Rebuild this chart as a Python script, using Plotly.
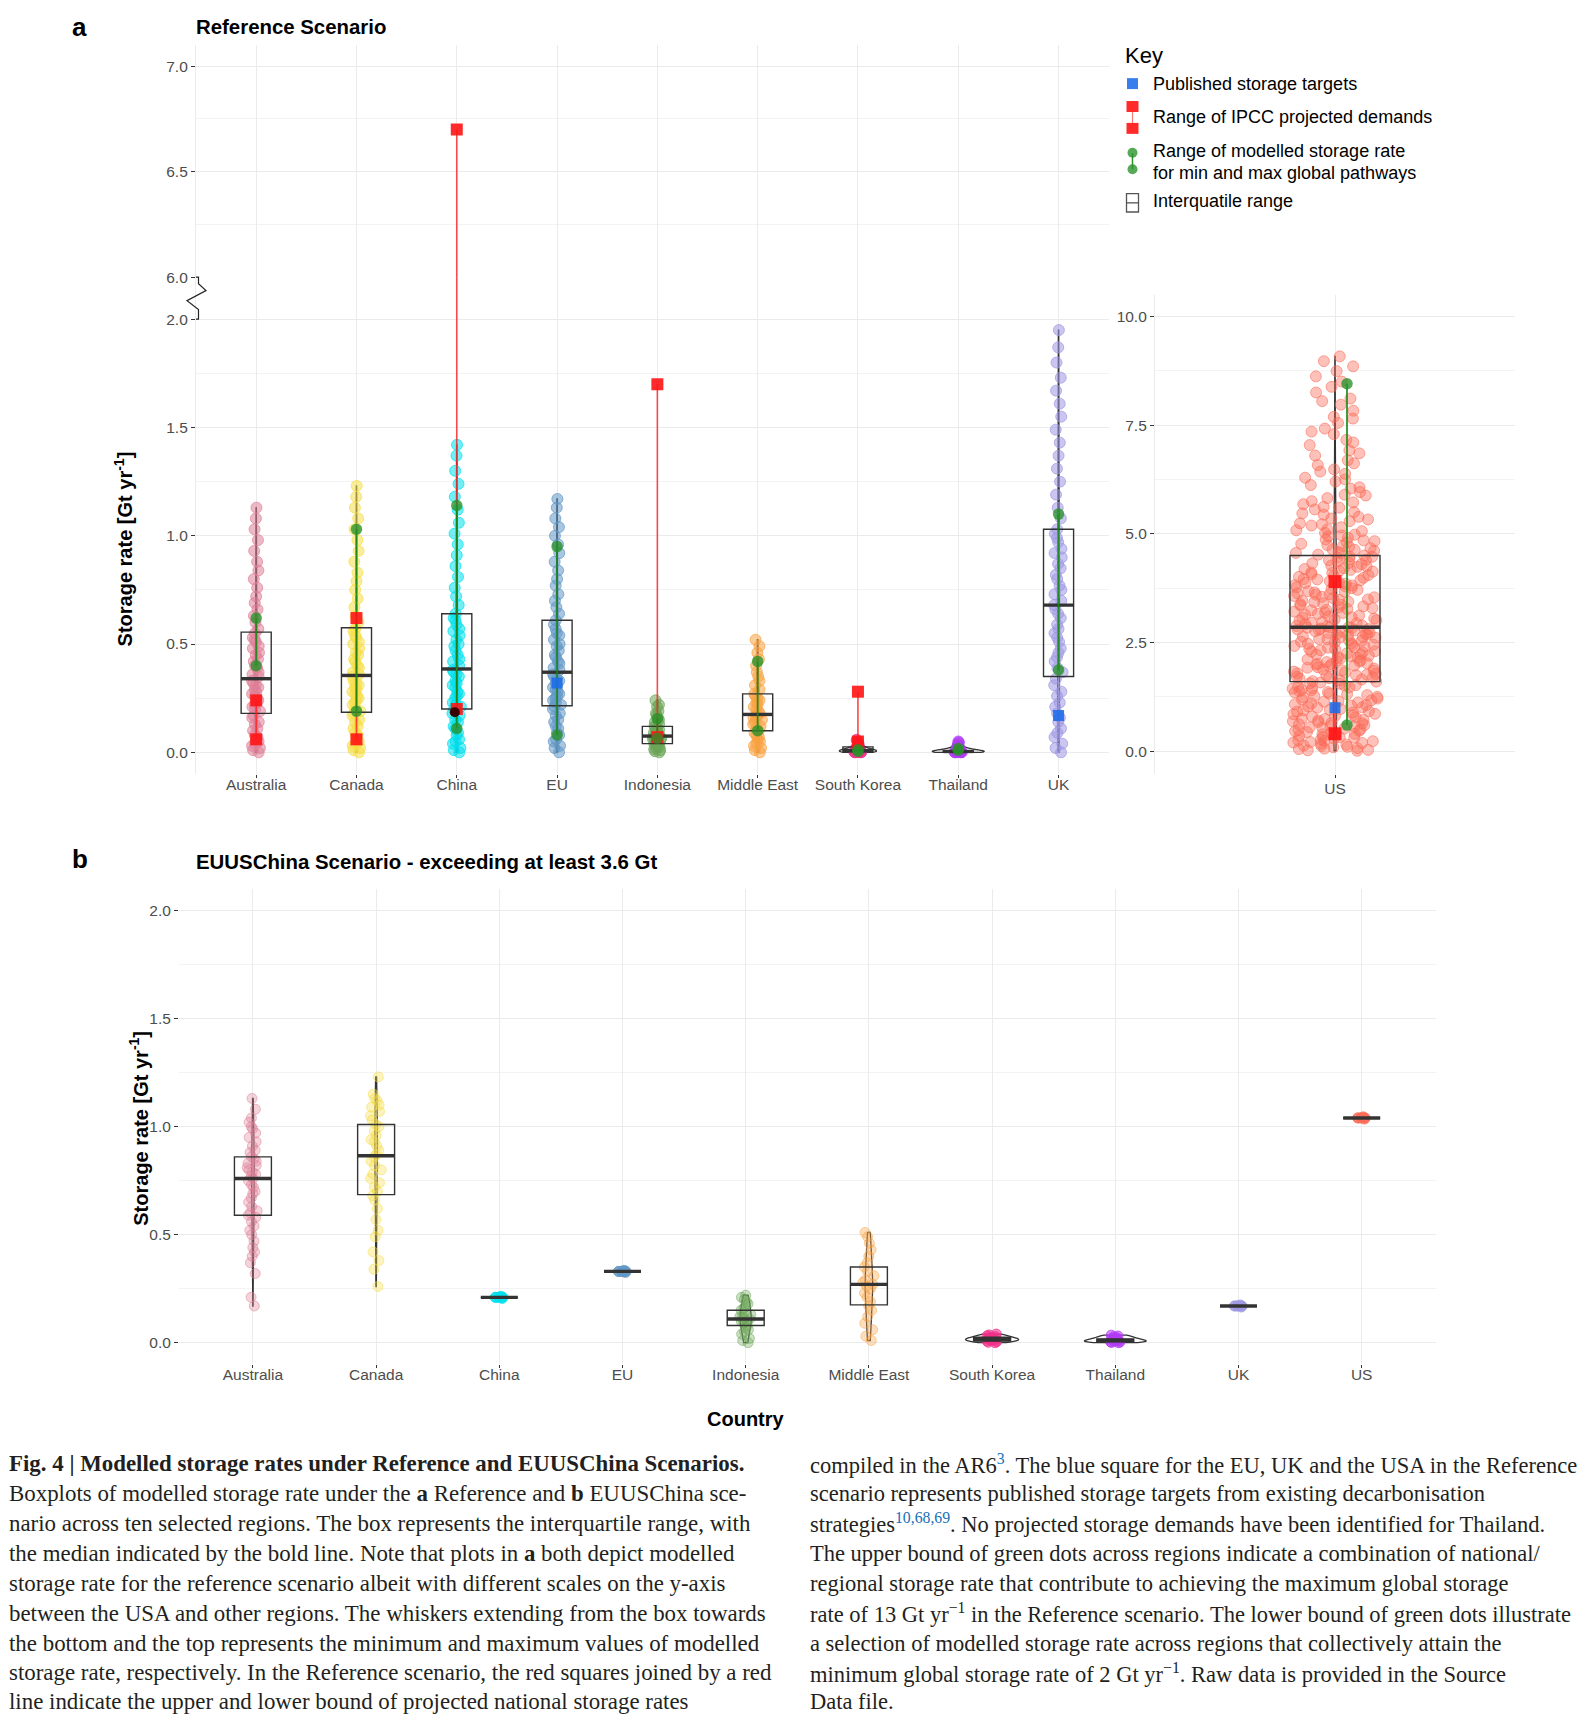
import plotly.graph_objects as go

W, H = 1591, 1722
def fx(x): return x / W
def fy(y): return 1 - y / H

# ---------------- data ----------------
regions_a = ["Australia", "Canada", "China", "EU", "Indonesia", "Middle East", "South Korea", "Thailand", "UK"]
regions_b = ["Australia", "Canada", "China", "EU", "Indonesia", "Middle East", "South Korea", "Thailand", "UK", "US"]

# Reference scenario modelled storage rates (Gt/yr), read from the jittered strips
aus_ref = [0.00,0.01,0.02,0.03,0.04,0.05,0.06,0.07,0.08,0.10,0.11,0.13,0.14,0.16,0.17,
           0.19,0.20,0.21,0.22,0.23,0.24,0.25,0.26,0.27,0.28,0.29,0.30,0.31,0.32,0.33,
           0.35,0.36,0.37,0.39,0.40,0.42,0.43,0.45,0.46,0.48,0.49,0.51,0.52,0.53,0.55,
           0.57,0.60,0.63,0.66,0.69,0.72,0.76,0.80,0.84,0.88,0.93,0.98,1.03,1.08,1.13]
can_ref = [0.00,0.01,0.02,0.03,0.04,0.05,0.07,0.08,0.09,0.11,0.12,0.14,0.15,0.17,0.18,
           0.19,0.20,0.22,0.23,0.24,0.25,0.26,0.27,0.28,0.29,0.30,0.31,0.32,0.33,0.35,
           0.36,0.37,0.39,0.40,0.42,0.43,0.45,0.46,0.48,0.50,0.51,0.53,0.54,0.56,0.57,
           0.60,0.63,0.67,0.71,0.75,0.79,0.83,0.88,0.93,0.98,1.03,1.08,1.13,1.18,1.23]
chn_ref = [0.00,0.01,0.02,0.04,0.05,0.06,0.08,0.09,0.11,0.12,0.14,0.15,0.17,0.18,0.20,
           0.21,0.22,0.23,0.25,0.26,0.27,0.28,0.30,0.31,0.32,0.33,0.35,0.36,0.37,0.38,
           0.40,0.42,0.43,0.45,0.47,0.49,0.50,0.52,0.54,0.56,0.57,0.59,0.61,0.62,0.64,
           0.68,0.72,0.76,0.81,0.86,0.91,0.96,1.01,1.06,1.12,1.18,1.24,1.30,1.37,1.42]
eu_ref = [0.00,0.02,0.03,0.05,0.06,0.08,0.09,0.11,0.12,0.14,0.15,0.17,0.18,0.20,0.21,
          0.22,0.23,0.24,0.25,0.26,0.27,0.28,0.29,0.30,0.31,0.32,0.33,0.34,0.35,0.36,
          0.38,0.39,0.41,0.42,0.44,0.45,0.47,0.49,0.50,0.52,0.54,0.55,0.57,0.59,0.61,
          0.64,0.67,0.70,0.73,0.77,0.80,0.84,0.88,0.92,0.96,1.00,1.04,1.08,1.13,1.17]
idn_ref = [0.00,0.005,0.01,0.015,0.02,0.025,0.03,0.035,0.04,0.04,
           0.045,0.05,0.055,0.06,0.06,0.065,0.07,0.07,0.075,0.075,
           0.08,0.085,0.09,0.09,0.095,0.10,0.105,0.11,0.115,0.12,
           0.13,0.14,0.15,0.16,0.17,0.18,0.19,0.21,0.22,0.24]
mde_ref = [0.00,0.01,0.02,0.03,0.04,0.05,0.06,0.07,0.08,0.09,
           0.10,0.11,0.12,0.13,0.14,0.15,0.16,0.16,0.17,0.17,
           0.18,0.19,0.20,0.21,0.22,0.23,0.24,0.25,0.26,0.27,
           0.29,0.31,0.33,0.35,0.37,0.40,0.43,0.46,0.49,0.52]
kor_ref = [0.000,0.000,0.001,0.002,0.002,0.003,0.004,0.005,0.006,0.007,0.008,0.009,
           0.010,0.012,0.014,0.016,0.018,0.021,0.025,0.030,0.036,0.043,0.050,0.058]
tha_ref = [0.000,0.000,0.001,0.001,0.002,0.002,0.003,0.003,0.004,0.005,0.006,
           0.007,0.008,0.010,0.012,0.015,0.019,0.024,0.030,0.037,0.044,0.050]
gbr_ref = [0.00,0.02,0.04,0.07,0.09,0.11,0.14,0.16,0.18,0.21,0.23,0.26,0.28,0.31,0.34,
           0.37,0.39,0.42,0.44,0.46,0.48,0.51,0.53,0.55,0.57,0.59,0.62,0.64,0.66,0.68,
           0.70,0.73,0.75,0.77,0.80,0.82,0.85,0.87,0.90,0.92,0.94,0.97,0.99,1.01,1.03,
           1.08,1.13,1.19,1.25,1.31,1.37,1.43,1.49,1.55,1.61,1.67,1.73,1.80,1.87,1.95]
usa_ref = [0.01,0.02,0.05,0.06,0.09,0.12,0.13,0.17,0.19,0.21,0.24,0.25,0.29,0.32,0.33,0.37,0.39,0.42,0.44,0.47,
           0.49,0.52,0.55,0.57,0.58,0.62,0.64,0.67,0.71,0.72,0.75,0.78,0.81,0.83,0.86,0.89,0.92,0.94,0.97,1.01,
           1.03,1.06,1.08,1.12,1.15,1.17,1.21,1.24,1.27,1.29,1.32,1.36,1.38,1.41,1.44,1.47,1.49,1.52,1.55,1.58,
           1.61,1.63,1.67,1.68,1.71,1.74,1.76,1.78,1.79,1.83,1.85,1.86,1.90,1.92,1.93,1.97,1.99,2.01,2.02,2.06,
           2.08,2.09,2.13,2.15,2.16,2.20,2.22,2.23,2.27,2.29,2.30,2.34,2.35,2.38,2.41,2.42,2.45,2.47,2.48,2.52,
           2.54,2.55,2.58,2.61,2.62,2.64,2.67,2.69,2.70,2.73,2.75,2.76,2.78,2.80,2.81,2.82,2.83,2.84,2.85,2.85,
           2.87,2.89,2.92,2.95,2.97,3.00,3.03,3.05,3.08,3.10,3.14,3.16,3.19,3.21,3.24,3.27,3.29,3.33,3.35,3.38,
           3.40,3.44,3.46,3.49,3.52,3.54,3.57,3.60,3.63,3.65,3.68,3.71,3.73,3.77,3.79,3.82,3.85,3.87,3.91,3.93,
           3.96,3.99,4.01,4.05,4.07,4.10,4.13,4.15,4.19,4.21,4.24,4.27,4.30,4.33,4.36,4.39,4.42,4.45,4.47,4.50,
           4.52,4.55,4.58,4.61,4.64,4.67,4.70,4.74,4.77,4.80,4.83,4.87,4.91,4.94,4.98,5.02,5.06,5.10,5.15,5.19,
           5.24,5.29,5.33,5.39,5.44,5.50,5.56,5.62,5.68,5.75,5.82,5.88,5.96,6.04,6.12,6.20,6.29,6.38,6.48,6.58,
           6.69,6.80,6.92,7.04,7.16,7.29,7.42,7.55,7.69,7.83,7.97,8.11,8.25,8.38,8.50,8.62,8.74,8.85,8.97,9.08,
           0.03,0.07,0.10,0.15,0.20,0.23,0.27,0.31,0.35,0.40,0.46,0.50,0.54,0.60,0.65,0.69,0.74,0.80,0.85,0.91,
           0.95,1.00,1.05,1.10,1.14,1.19,1.25,1.31,1.35,1.40,1.45,1.51,1.56,1.60,1.65,1.70,1.75,1.81,1.88,1.95,
           2.00,2.05,2.11,2.18,2.25,2.32,2.39,2.44,2.50,2.57,2.63,2.68,2.72,2.79,2.88,2.94,3.01,3.07,3.12,3.18,
           3.25,3.31,3.37,3.43,3.48,3.55,3.61,3.67,3.75,3.81,3.88,3.95,4.03,4.11,4.17,4.25,4.32,4.40,4.48,4.56,
           4.63,4.72,4.85,4.96,5.08,5.22,5.35,5.47,5.60,5.72,5.90,6.07,6.25,6.43,6.62,6.85,7.10,7.35,7.65,8.05]

# Reference scenario box statistics
ref_q1 = [0.180, 0.185, 0.200, 0.215, 0.040, 0.100, 0.003, 0.001, 0.350]
ref_med = [0.340, 0.355, 0.385, 0.370, 0.075, 0.175, 0.008, 0.004, 0.680]
ref_q3 = [0.555, 0.575, 0.640, 0.610, 0.120, 0.270, 0.025, 0.008, 1.030]
usa_q1, usa_med, usa_q3 = [1.60], [2.85], [4.50]

# IPCC projected demand ranges, modelled min/max pathways, published targets
ipcc_hi = [0.24, 0.62, 6.70, None, 1.70, None, 0.28, None, None]
ipcc_lo = [0.06, 0.06, 0.20, None, 0.07, None, 0.05, None, None]
green_hi = [0.62, 1.03, 1.14, 0.95, 0.155, 0.42, 0.012, 0.018, 1.10]
green_lo = [0.40, 0.19, 0.11, 0.08, 0.065, 0.10, 0.004, 0.010, 0.38]
targets = [None, None, None, 0.32, None, None, None, None, 0.17]
china_dark_point = [0.185]
usa_ipcc = [0.40, 3.90]
usa_green = [0.60, 8.45]
usa_target = [1.00]

# EUUSChina scenario
aus_b = [0.17,0.21,0.32,0.37,0.40,0.42,0.44,0.47,0.50,0.52,0.54,0.56,0.58,
         0.59,0.60,0.61,0.63,0.65,0.67,0.69,0.70,0.72,0.73,0.75,
         0.76,0.77,0.78,0.79,0.80,0.81,0.82,0.83,0.84,0.85,0.86,
         0.88,0.89,0.91,0.93,0.95,0.97,0.99,1.00,1.02,1.04,1.08,1.13]
can_b = [0.26,0.34,0.38,0.42,0.49,0.52,0.57,0.62,0.66,0.68,
         0.70,0.72,0.74,0.76,0.78,0.80,0.82,0.84,0.86,
         0.87,0.89,0.91,0.93,0.94,0.96,0.98,1.00,1.01,
         1.03,1.05,1.07,1.09,1.10,1.12,1.13,1.15,1.23]
chn_b = [0.205, 0.21, 0.21, 0.21, 0.215, 0.21, 0.21, 0.21]
eu_b = [0.325, 0.33, 0.33, 0.33, 0.335, 0.33, 0.33, 0.33]
idn_b = [0.00,0.01,0.02,0.04,0.05,0.06,0.07,0.08,0.09,0.10,0.10,0.11,0.11,
         0.12,0.12,0.13,0.14,0.15,0.16,0.17,0.18,0.19,0.20,0.21,0.22]
mde_b = [0.01,0.03,0.06,0.09,0.12,0.15,0.17,0.19,0.21,0.23,0.25,0.26,
         0.27,0.28,0.29,0.31,0.33,0.35,0.37,0.40,0.43,0.46,0.49,0.51]
kor_b = [0.000,0.002,0.005,0.008,0.010,0.012,0.014,0.016,0.018,0.020,0.022,0.025,0.028,0.032,0.036,0.040]
tha_b = [0.000,0.001,0.003,0.005,0.007,0.009,0.011,0.013,0.016,0.019,0.023,0.027,0.031,0.035]
gbr_b = [0.165, 0.17, 0.17, 0.17, 0.175, 0.17, 0.17, 0.17]
usa_b = [1.035, 1.04, 1.04, 1.04, 1.045, 1.04, 1.04, 1.04]

b_q1 = [0.590, 0.685, 0.21, 0.33, 0.080, 0.175, 0.008, 0.004, 0.17, 1.04]
b_med = [0.760, 0.865, 0.21, 0.33, 0.110, 0.270, 0.015, 0.010, 0.17, 1.04]
b_q3 = [0.860, 1.010, 0.21, 0.33, 0.150, 0.350, 0.025, 0.018, 0.17, 1.04]

# ---------------- styles ----------------
colors = {"Australia": (224, 128, 152), "Canada": (246, 222, 70), "China": (0, 224, 236),
          "EU": (98, 152, 198), "Indonesia": (108, 165, 88), "Middle East": (250, 162, 66),
          "South Korea": (242, 48, 138), "Thailand": (178, 58, 245), "UK": (158, 152, 228),
          "US": (250, 108, 88)}
violin_w_a = [0.025, 0.025, 0.025, 0.025, 0.08, 0.035, 0.37, 0.52, 0.02]
violin_w_b = [0.02, 0.02, None, None, 0.09, 0.06, 0.43, 0.50, None, None]
BOXW = 0.30
DARK = "#333333"
FONT = "Liberation Sans, Arial, sans-serif"
GRID = "#EBEBEB"
MINOR = "#F3F3F3"

def rgba(c, a):
    return "rgba(%d,%d,%d,%.2f)" % (c[0], c[1], c[2], a)

ref_points = [aus_ref, can_ref, chn_ref, eu_ref, idn_ref, mde_ref, kor_ref, tha_ref, gbr_ref]
b_points = [aus_b, can_b, chn_b, eu_b, idn_b, mde_b, kor_b, tha_b, gbr_b, usa_b]

fig = go.Figure()

def add_points(vals, pos, name, xa, ya, size, jitter, alpha=0.35):
    c = colors[name]
    fig.add_trace(go.Box(y=vals, x0=pos, width=BOXW, boxpoints="all", jitter=jitter, pointpos=0,
                         line=dict(width=0, color="rgba(0,0,0,0)"), fillcolor="rgba(0,0,0,0)",
                         marker=dict(size=size, color=rgba(c, alpha), line=dict(width=1, color=rgba(c, min(1, alpha + 0.15)))),
                         hoverinfo="skip", showlegend=False, xaxis=xa, yaxis=ya))

def add_violin(vals, pos, w, xa, ya):
    fig.add_trace(go.Violin(y=vals, x0=pos, width=w, spanmode="hard", points=False, scalemode="width",
                            line=dict(color=DARK, width=1.3), fillcolor="rgba(0,0,0,0)",
                            hoverinfo="skip", showlegend=False, xaxis=xa, yaxis=ya))

def add_boxes(pos, q1, med, q3, xa, ya):
    fig.add_trace(go.Box(x=pos, q1=q1, median=med, q3=q3, lowerfence=q1, upperfence=q3,
                         width=BOXW, boxpoints=False, whiskerwidth=0,
                         line=dict(color=DARK, width=1.4), fillcolor="rgba(0,0,0,0)",
                         hoverinfo="skip", showlegend=False, xaxis=xa, yaxis=ya))
    mx, my = [], []
    for p, m in zip(pos, med):
        mx += [p - BOXW / 2, p + BOXW / 2, None]
        my += [m, m, None]
    fig.add_trace(go.Scatter(x=mx, y=my, mode="lines", line=dict(color=DARK, width=3.4),
                             hoverinfo="skip", showlegend=False, xaxis=xa, yaxis=ya))

def seg(pos, lo, hi, dx=0.0):
    xs, ys = [], []
    for p, l, h in zip(pos, lo, hi):
        if l is None:
            continue
        xs += [p + dx, p + dx, None]
        ys += [l, h, None]
    return xs, ys

def pts(pos, vals, dx=0.0):
    xs, ys = [], []
    for p, v in zip(pos, vals):
        if v is None:
            continue
        xs.append(p + dx)
        ys.append(v)
    return xs, ys

RED_LINE = "rgba(255,30,30,0.8)"
RED_SQ = "rgba(255,20,20,0.9)"
GREEN_LINE = "rgba(20,135,20,0.9)"
GREEN_DOT = "rgba(40,145,40,0.78)"
BLUE_SQ = "rgba(28,108,235,0.88)"

def add_overlays(pos, hi, lo, ghi, glo, tgt, xa, ya, gdx=0.0, sq=12):
    gx, gy = seg(pos, glo, ghi, gdx)
    rx, ry = seg(pos, lo, hi)
    fig.add_trace(go.Scatter(x=rx, y=ry, mode="lines", line=dict(color=RED_LINE, width=1.6),
                             hoverinfo="skip", showlegend=False, xaxis=xa, yaxis=ya))
    fig.add_trace(go.Scatter(x=gx, y=gy, mode="lines", line=dict(color=GREEN_LINE, width=1.8),
                             hoverinfo="skip", showlegend=False, xaxis=xa, yaxis=ya))
    sx, sy = pts(pos + pos, hi + lo)
    fig.add_trace(go.Scatter(x=sx, y=sy, mode="markers", marker=dict(symbol="square", size=sq, color=RED_SQ),
                             hoverinfo="skip", showlegend=False, xaxis=xa, yaxis=ya))
    dxs, dys = pts(pos + pos, ghi + glo, gdx)
    fig.add_trace(go.Scatter(x=dxs, y=dys, mode="markers", marker=dict(symbol="circle", size=11.5, color=GREEN_DOT),
                             hoverinfo="skip", showlegend=False, xaxis=xa, yaxis=ya))
    if tgt is not None:
        tx, ty = pts(pos, tgt)
        fig.add_trace(go.Scatter(x=tx, y=ty, mode="markers", marker=dict(symbol="square", size=11, color=BLUE_SQ),
                                 hoverinfo="skip", showlegend=False, xaxis=xa, yaxis=ya))

pos_a = list(range(len(regions_a)))
pos_b = list(range(len(regions_b)))

# ---- panel a (other regions) ----
for i, name in enumerate(regions_a):
    add_points(ref_points[i], pos_a[i], name, "x", "y", 11, 0.32, 0.65 if name in ("South Korea", "Thailand") else 0.55)
add_points(usa_ref, 0, "US", "x3", "y3", 11, 0.95, 0.42)
for i in range(len(regions_a)):
    add_violin(ref_points[i], pos_a[i], violin_w_a[i], "x", "y")
add_violin(usa_ref, 0, 0.012, "x3", "y3")
add_boxes(pos_a, ref_q1, ref_med, ref_q3, "x", "y")
add_boxes([0], usa_q1, usa_med, usa_q3, "x3", "y3")
add_overlays(pos_a, ipcc_hi, ipcc_lo, green_hi, green_lo, targets, "x", "y")
fig.add_trace(go.Scatter(x=[pos_a[2] - 0.02], y=china_dark_point, mode="markers",
                         marker=dict(size=10, color="rgba(40,0,0,0.9)"), hoverinfo="skip",
                         showlegend=False, xaxis="x", yaxis="y"))
# upper segment of the broken axis (only China's IPCC range reaches it)
add_overlays(pos_a, ipcc_hi, ipcc_lo, [None] * 9, [None] * 9, None, "x2", "y2")
# US panel
add_overlays([0], [usa_ipcc[1]], [usa_ipcc[0]], [usa_green[1]], [usa_green[0]], usa_target, "x3", "y3",
             gdx=0.04, sq=13)

# ---- panel b ----
for i, name in enumerate(regions_b):
    add_points(b_points[i], pos_b[i], name, "x4", "y4", 10, 0.33,
               0.58 if name in ("South Korea", "Thailand", "China", "EU", "UK", "US") else 0.35)
for i in range(len(regions_b)):
    if violin_w_b[i]:
        add_violin(b_points[i], pos_b[i], violin_w_b[i], "x4", "y4")
add_boxes(pos_b, b_q1, b_med, b_q3, "x4", "y4")

# ---------------- axes ----------------
tickfont = dict(family=FONT, size=15.5, color="#4D4D4D")
def xax(domain, rng, tv, tt, anchor, labels=True, standoff=-7, **kw):
    d = dict(domain=domain, range=rng, type="linear", anchor=anchor, tickvals=tv, ticktext=tt,
             showgrid=True, gridcolor=GRID, gridwidth=1.3, zeroline=False, showline=False,
             ticks="outside" if labels else "", ticklen=3, tickcolor=DARK, tickfont=tickfont,
             showticklabels=labels, ticklabelstandoff=standoff, fixedrange=True)
    d.update(kw)
    return d

def yax(domain, rng, dtick, minor, anchor, line=False):
    return dict(domain=domain, range=rng, type="linear", anchor=anchor, dtick=dtick, tick0=0,
                tickformat=".1f", showgrid=True, gridcolor=GRID, gridwidth=1.3, zeroline=False,
                showline=line, linecolor=GRID, linewidth=1.2,
                ticks="outside", ticklen=4, tickcolor=DARK, tickfont=tickfont,
                minor=dict(dtick=minor, tick0=0, showgrid=True, gridcolor=MINOR, gridwidth=0.9, ticks=""),
                fixedrange=True)

A_X = [fx(196), fx(1108.7)]
fig.update_layout(
    xaxis=xax(A_X, [-0.6, 8.5], pos_a, regions_a, "y"),
    yaxis=yax([fy(777.6), fy(278.5)], [-0.1, 2.194], 0.5, 0.25, "x", True),
    xaxis2=xax(A_X, [-0.6, 8.5], pos_a, regions_a, "y2", labels=False, matches="x"),
    yaxis2=yax([fy(278.5), fy(45)], [6.0, 7.101], 0.5, 0.25, "x2", True),
    xaxis3=xax([fx(1155), fx(1515)], [-0.6, 0.6], [0], ["US"], "y3", standoff=-3),
    yaxis3=yax([fy(777.6), fy(296)], [-0.524, 10.50], 2.5, 1.25, "x3", True),
    xaxis4=xax([fx(179), fx(1435.6)], [-0.6, 9.6], pos_b, regions_b, "y4"),
    yaxis4=yax([fy(1370.7), fy(893)], [-0.1, 2.1], 0.5, 0.25, "x4"),
)

# ---------------- decorations ----------------
shapes = []
def P(x, y):
    return "%.5f,%.5f" % (fx(x), fy(y))
zig = [(196, 278.5), (198.5, 278.5), (198.5, 285), (206, 292), (187, 302), (198.5, 311), (198.5, 320.7), (196, 320.7)]
shapes.append(dict(type="path", xref="paper", yref="paper",
                   path="M " + " L ".join(P(x, y) for x, y in zig), line=dict(color="#222222", width=1.2)))
# legend key icons
KX = 1132.5
def rect(x0, y0, x1, y1, **kw):
    d = dict(type="rect", xref="paper", yref="paper", x0=fx(x0), x1=fx(x1), y0=fy(y1), y1=fy(y0))
    d.update(kw)
    return d
shapes.append(rect(KX - 5.5, 78.5, KX + 5.5, 89.5, fillcolor=BLUE_SQ, line=dict(width=0)))
shapes.append(dict(type="line", xref="paper", yref="paper", x0=fx(KX), x1=fx(KX), y0=fy(112), y1=fy(124),
                   line=dict(color="rgba(255,90,90,0.8)", width=1.2)))
shapes.append(rect(KX - 6, 101.5, KX + 6, 112.5, fillcolor=RED_SQ, line=dict(width=0)))
shapes.append(rect(KX - 6, 123.5, KX + 6, 134.5, fillcolor=RED_SQ, line=dict(width=0)))
shapes.append(dict(type="line", xref="paper", yref="paper", x0=fx(KX), x1=fx(KX), y0=fy(154), y1=fy(170),
                   line=dict(color=GREEN_LINE, width=1.5)))
shapes.append(dict(type="circle", xref="paper", yref="paper", x0=fx(KX - 5), x1=fx(KX + 5), y0=fy(158.5), y1=fy(148.5),
                   fillcolor=GREEN_DOT, line=dict(width=0)))
shapes.append(dict(type="circle", xref="paper", yref="paper", x0=fx(KX - 5), x1=fx(KX + 5), y0=fy(175), y1=fy(165),
                   fillcolor=GREEN_DOT, line=dict(width=0)))
shapes.append(rect(KX - 6, 194.5, KX + 6, 213, fillcolor="rgba(0,0,0,0)", line=dict(color="#555555", width=1.3)))
shapes.append(dict(type="line", xref="paper", yref="paper", x0=fx(KX - 6), x1=fx(KX + 6), y0=fy(203.8), y1=fy(203.8),
                   line=dict(color="#555555", width=1.3)))

ann = []
def text(x, y, s, size, bold=False, xanchor="left", family=FONT, color="#000000", angle=0):
    ann.append(dict(xref="paper", yref="paper", x=fx(x), y=fy(y), text=("<b>%s</b>" % s) if bold else s,
                    showarrow=False, xanchor=xanchor, yanchor="middle", textangle=angle,
                    font=dict(family=family, size=size, color=color), align="left"))

text(79.5, 27.6, "a", 26, True, "center")
text(194, 27.6, "Reference Scenario", 20.4, True)
text(79.5, 863, "b", 26, True, "center")
text(194, 866, "EUUSChina Scenario - exceeding at least 3.6 Gt", 20.4, True)
text(123, 552, "Storage rate [Gt yr<sup>-1</sup>]", 20, True, "center", angle=-90)
text(139, 1134, "Storage rate [Gt yr<sup>-1</sup>]", 20, True, "center", angle=-90)
text(746, 1425.5, "Country", 20, True, "center")

text(1122.5, 55.5, "Key", 22)
text(1151, 84, "Published storage targets", 18)
text(1151, 117.5, "Range of IPCC projected demands", 18)
text(1151, 151.5, "Range of modelled storage rate", 18)
text(1151, 173.5, "for min and max global pathways", 18)
text(1151, 202, "Interquatile range", 18)

SERIF = "Liberation Serif, Times New Roman, serif"
REF = "color:#1570B8"
left_col = [
    "<b>Fig. 4 | Modelled storage rates under Reference and EUUSChina Scenarios.</b>",
    "Boxplots of modelled storage rate under the <b>a</b> Reference and <b>b</b> EUUSChina sce-",
    "nario across ten selected regions. The box represents the interquartile range, with",
    "the median indicated by the bold line. Note that plots in <b>a</b> both depict modelled",
    "storage rate for the reference scenario albeit with different scales on the y-axis",
    "between the USA and other regions. The whiskers extending from the box towards",
    "the bottom and the top represents the minimum and maximum values of modelled",
    "storage rate, respectively. In the Reference scenario, the red squares joined by a red",
    "line indicate the upper and lower bound of projected national storage rates",
]
right_col = [
    "compiled in the AR6<sup><span style='%s'>3</span></sup>. The blue square for the EU, UK and the USA in the Reference" % REF,
    "scenario represents published storage targets from existing decarbonisation",
    "strategies<sup><span style='%s'>10,68,69</span></sup>. No projected storage demands have been identified for Thailand." % REF,
    "The upper bound of green dots across regions indicate a combination of national/",
    "regional storage rate that contribute to achieving the maximum global storage",
    "rate of 13 Gt yr<sup>\u22121</sup> in the Reference scenario. The lower bound of green dots illustrate",
    "a selection of modelled storage rate across regions that collectively attain the",
    "minimum global storage rate of 2 Gt yr<sup>\u22121</sup>. Raw data is provided in the Source",
    "Data file.",
]
line_y = [1470.8, 1500.6, 1530.4, 1561.0, 1591.0, 1621.0, 1650.9, 1680.7, 1709.5]
for s, y in zip(left_col, line_y):
    text(7, y, s, 22.9, family=SERIF, color="#231F20")
for s, y in zip(right_col, line_y):
    text(808, y, s, 22.5, family=SERIF, color="#231F20")

fig.update_layout(width=W, height=H, margin=dict(l=0, r=0, t=0, b=0), paper_bgcolor="white",
                  plot_bgcolor="white", showlegend=False, hovermode=False,
                  boxmode="overlay", violinmode="overlay", shapes=shapes, annotations=ann,
                  font=dict(family=FONT))

fig.write_html("out.html", config={"displayModeBar": False},
               post_script="document.body.style.margin='0px';")
